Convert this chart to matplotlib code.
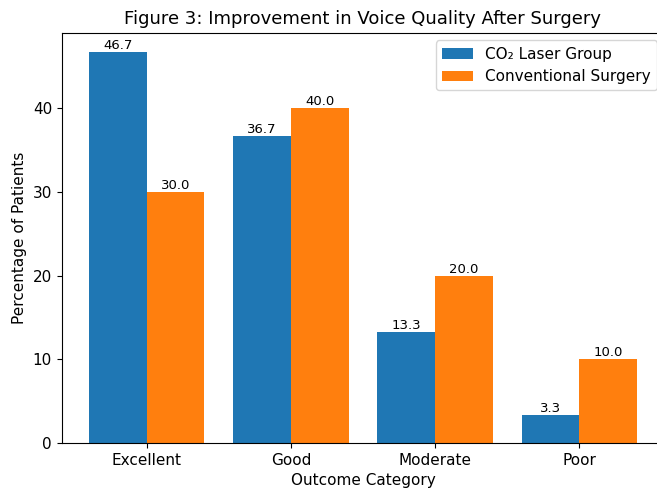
import matplotlib.pyplot as plt
import numpy as np

categories = ['Excellent', 'Good', 'Moderate', 'Poor']
co2_laser = [46.7, 36.7, 13.3, 3.3]
conventional = [30.0, 40.0, 20.0, 10.0]

plt.rcParams['font.size'] = 11
fig, ax = plt.subplots(figsize=(6.57, 4.9), dpi=100)
x = np.arange(len(categories))
w = 0.4

b1 = ax.bar(x - w/2, co2_laser, w, label='CO₂ Laser Group', color='#1f77b4')
b2 = ax.bar(x + w/2, conventional, w, label='Conventional Surgery', color='#ff7f0e')

for bars in (b1, b2):
    for bar in bars:
        h = bar.get_height()
        ax.text(bar.get_x() + bar.get_width()/2, h, f'{h:.1f}',
                ha='center', va='bottom', fontsize=9.5)

ax.set_xticks(x)
ax.set_xticklabels(categories)
ax.set_xlabel('Outcome Category')
ax.set_ylabel('Percentage of Patients')
ax.set_title('Figure 3: Improvement in Voice Quality After Surgery', fontsize=13)
ax.legend(loc='upper right', fontsize=11)

# axes runs slightly past the right edge, as in the reference crop
plt.subplots_adjust(left=0.094, right=1.011, top=0.933, bottom=0.096)
plt.savefig('out.png')
